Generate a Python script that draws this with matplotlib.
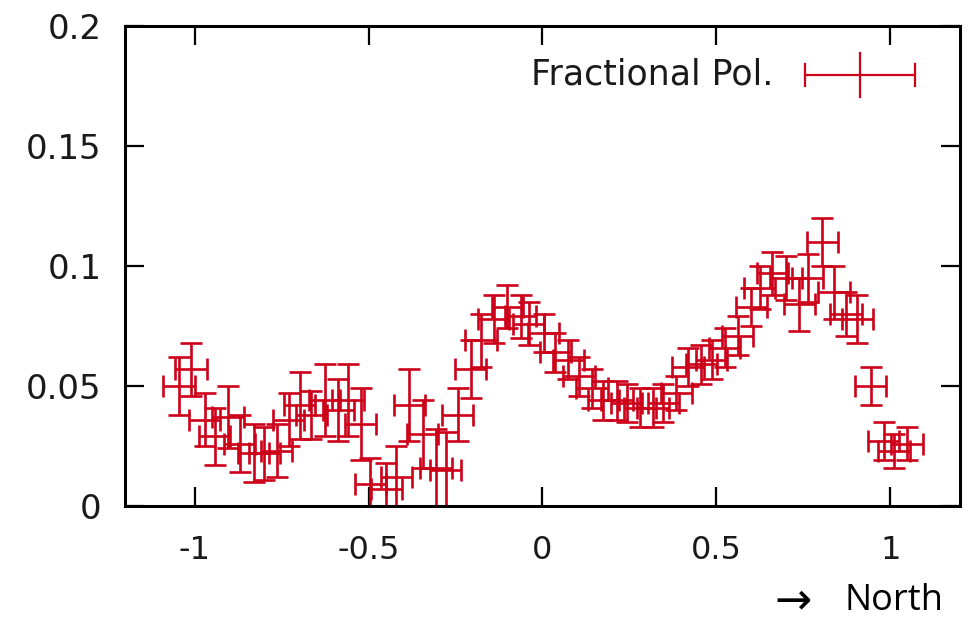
import matplotlib
matplotlib.use("Agg")
import matplotlib.pyplot as plt

# Fractional polarisation profile along the slit (negative = south, positive = north)
pos = [-1.045, -1.010, -0.971, -0.942, -0.904, -0.870, -0.830, -0.800, -0.764, -0.730,
       -0.698, -0.664, -0.626, -0.587, -0.559, -0.523, -0.495, -0.449, -0.420, -0.383,
       -0.344, -0.306, -0.278, -0.244, -0.206, -0.177, -0.140, -0.101, -0.063, -0.040,
       0.003, 0.037, 0.074, 0.105, 0.142, 0.175, 0.214, 0.242, 0.280, 0.318,
       0.347, 0.385, 0.418, 0.457, 0.486, 0.524, 0.561, 0.600, 0.624, 0.661,
       0.700, 0.738, 0.762, 0.804, 0.838, 0.872, 0.905, 0.943, 0.981, 1.010,
       1.048]
frac_pol = [0.050, 0.057, 0.036, 0.029, 0.037, 0.026, 0.022, 0.022, 0.023, 0.036,
            0.042, 0.038, 0.044, 0.040, 0.044, 0.034, 0.009, 0.007, 0.012, 0.042,
            0.030, 0.016, 0.015, 0.038, 0.057, 0.069, 0.078, 0.083, 0.079, 0.076,
            0.072, 0.064, 0.061, 0.054, 0.049, 0.044, 0.044, 0.043, 0.041, 0.041,
            0.043, 0.047, 0.058, 0.059, 0.061, 0.066, 0.071, 0.083, 0.091, 0.097,
            0.095, 0.084, 0.095, 0.110, 0.089, 0.080, 0.078, 0.050, 0.027, 0.023,
            0.026]
frac_err = [0.012, 0.011, 0.011, 0.012, 0.013, 0.012, 0.012, 0.011, 0.011, 0.011,
            0.014, 0.010, 0.015, 0.013, 0.015, 0.015, 0.011, 0.011, 0.013, 0.015,
            0.014, 0.016, 0.016, 0.011, 0.012, 0.011, 0.010, 0.009, 0.009, 0.009,
            0.008, 0.008, 0.008, 0.008, 0.008, 0.008, 0.008, 0.008, 0.008, 0.008,
            0.008, 0.007, 0.008, 0.008, 0.008, 0.008, 0.008, 0.008, 0.009, 0.009,
            0.009, 0.011, 0.010, 0.010, 0.011, 0.009, 0.010, 0.008, 0.008, 0.007,
            0.007]
pos_halfwidth = 0.045

xticks = [-1, -0.5, 0, 0.5, 1]
xticklabels = ["-1", "-0.5", "0", "0.5", "1"]
yticks = [0, 0.05, 0.1, 0.15, 0.2]
yticklabels = ["0", "0.05", "0.1", "0.15", "0.2"]

RED = "#cc0018"
LW = 1.9

fig = plt.figure(figsize=(9.75, 6.21), dpi=100)
ax = fig.add_axes([0.1282, 0.1852, 0.8564, 0.7729])

ax.errorbar(pos, frac_pol, xerr=pos_halfwidth, yerr=frac_err, fmt="none",
            ecolor=RED, elinewidth=LW, capsize=8, capthick=LW)

ax.set_xlim(-1.2, 1.2)
ax.set_ylim(0, 0.2)
ax.set_xticks(xticks)
ax.set_yticks(yticks)
ax.set_xticklabels(xticklabels, family="DejaVu Sans", fontsize=23, color="#1a1a1a")
ax.set_yticklabels(yticklabels, family="DejaVu Sans", fontsize=24.5, color="#1a1a1a")

ax.tick_params(direction="in", length=14, width=1.6, top=True, right=True)
ax.tick_params(axis="x", pad=21)
ax.tick_params(axis="y", pad=17)
for sp in ax.spines.values():
    sp.set_linewidth(2.2)

# key, gnuplot style: label on the left, xy-errorbar sample on the right
ax.text(0.776, 0.898, "Fractional Pol.", transform=ax.transAxes, ha="right",
        va="center", fontsize=25, family="DejaVu Sans", color="#1a1a1a")
ax.plot([0.814, 0.946], [0.898, 0.898], transform=ax.transAxes, color=RED, lw=1.6)
ax.plot([0.880, 0.880], [0.852, 0.944], transform=ax.transAxes, color=RED, lw=1.6)
ax.plot([0.814, 0.814], [0.875, 0.921], transform=ax.transAxes, color=RED, lw=1.6)
ax.plot([0.946, 0.946], [0.875, 0.921], transform=ax.transAxes, color=RED, lw=1.6)

fig.text(793 / 975, 1 - 601 / 621, "\u2192", ha="center", va="center",
         fontsize=32, family="DejaVu Sans", color="black")
fig.text(845 / 975, 1 - 601 / 621, "North", ha="left", va="center",
         fontsize=26, family="Open Sans", color="black")

fig.savefig("out.png", dpi=100)
